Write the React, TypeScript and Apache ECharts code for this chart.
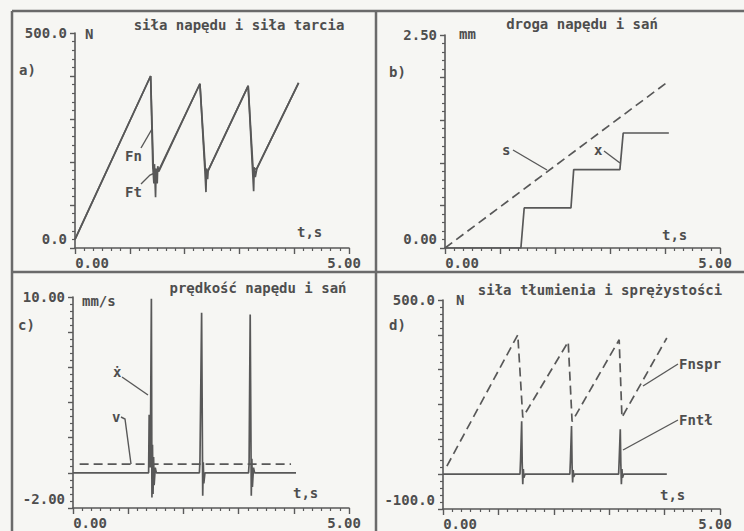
import React, { useEffect, useRef } from "react";
import * as echarts from "echarts";

// ---- tick labels ----
const timeLabels = ["0.00", "5.00"];
const yLabelsA = ["0.0", "500.0"];
const yLabelsB = ["0.00", "2.50"];
const yLabelsC = ["-2.00", "10.00"];
const yLabelsD = ["-100.0", "500.0"];

// ---- titles ----
const titles = [
  "siła napędu i siła tarcia",
  "droga napędu i sań",
  "prędkość napędu i sań",
  "siła tłumienia i sprężystości",
];
const panelLetters = ["a)", "b)", "c)", "d)"];
const units = ["N", "mm", "mm/s", "N"];

// ---- panel a: force of drive (Fn) and friction (Ft), [t s, N] ----
const fnData = [
  [0, 20], [1.38, 400], [1.43, 185], [1.52, 178], [2.28, 382], [2.38, 180],
  [2.43, 180], [3.16, 377], [3.25, 182], [3.32, 185], [4.08, 384],
];
const ftData = [
  [0, 20], [1.38, 400], [1.42, 190], [1.44, 150], [1.45, 195], [1.47, 118],
  [1.48, 185], [1.5, 150], [1.51, 190], [1.53, 178], [2.28, 382], [2.37, 182],
  [2.39, 130], [2.4, 185], [2.42, 160], [2.43, 180], [3.16, 377], [3.24, 182],
  [3.26, 132], [3.27, 188], [3.29, 165], [3.32, 185], [4.08, 384],
];

// ---- panel b: displacement of drive (s) and sledge (x), [t s, mm] ----
const sData = [[0, 0], [4.07, 1.96]];
const xData = [
  [0, 0], [1.38, 0], [1.44, 0.47], [2.29, 0.47], [2.34, 0.92],
  [3.18, 0.92], [3.24, 1.35], [4.07, 1.35],
];

// ---- panel c: velocity of drive (v) and sledge (x dot), [t s, mm/s] ----
const vData = [[0.12, 0.5], [3.95, 0.5]];
const xdotData = [
  [0, 0], [1.37, 0], [1.38, 3.3], [1.39, 3.3], [1.4, 0.3], [1.42, 9.9],
  [1.43, -1.4], [1.44, 1.6], [1.45, -1.2], [1.46, 0.9], [1.47, -0.7],
  [1.49, 0.3], [1.51, 0], [2.29, 0], [2.3, 0.7], [2.31, 0.7], [2.33, 9.1],
  [2.35, -1.3], [2.36, 0.6], [2.37, -0.6], [2.39, 0], [3.18, 0], [3.19, 0.5],
  [3.21, 9.0], [3.23, -1.3], [3.24, 0.8], [3.25, -0.8], [3.27, 0.3],
  [3.29, 0], [4.04, 0],
];

// ---- panel d: spring force (Fnspr) and damping force (Fntł), [t s, N] ----
const fnsprData = [
  [0.07, 23], [1.35, 400], [1.44, 163], [2.26, 380], [2.33, 151],
  [3.18, 386], [3.23, 163], [4.04, 391],
];
const fntlData = [
  [0, 0], [1.39, 0], [1.4, 40], [1.42, 152], [1.43, 30], [1.44, -29],
  [1.45, 15], [1.46, -10], [1.48, 0], [2.29, 0], [2.3, 40], [2.32, 138],
  [2.33, 25], [2.34, -24], [2.35, 12], [2.36, -8], [2.38, 0], [3.17, 0],
  [3.18, 40], [3.2, 129], [3.21, 30], [3.22, -29], [3.23, 15], [3.24, -10],
  [3.26, 0], [4.04, 0],
];

const INK = "#4e4e4e";
const LINE = "#585858";
const FRAME = "#6a6a6a";
const TICK = "#5a5a5a";
const FONT = "DejaVu Sans Mono";
const FS = 14;

const txt = (text: string, x: number, y: number, align = "left") => ({
  type: "text",
  x,
  y,
  style: {
    text,
    fill: INK,
    font: `bold ${FS}px "${FONT}"`,
    textAlign: align,
    textVerticalAlign: "middle",
  },
});

const seg = (pts: number[][]) => ({
  type: "polyline",
  shape: { points: pts },
  style: { stroke: LINE, lineWidth: 1.4, fill: "none" },
});

const frameLine = (x1: number, y1: number, x2: number, y2: number) => ({
  type: "line",
  shape: { x1, y1, x2, y2 },
  style: { stroke: FRAME, lineWidth: 2.5 },
});

const labelText = { fontFamily: FONT, fontWeight: "bold", fontSize: FS, color: INK };

function xAxisFor(gridIndex: number) {
  return {
    type: "value",
    gridIndex,
    min: 0,
    max: 5,
    interval: 1,
    axisLine: { show: true, onZero: false, lineStyle: { color: LINE, width: 1.6 } },
    axisTick: { show: true, length: 6, lineStyle: { color: TICK, width: 1.4 } },
    minorTick: { show: true, splitNumber: 6, length: 3, lineStyle: { color: TICK, width: 1.2 } },
    splitLine: { show: false },
    minorSplitLine: { show: false },
    axisLabel: {
      margin: 8,
      ...labelText,
      formatter: (v: number) =>
        v === 0 ? `{l|${timeLabels[0]}}` : v === 5 ? `{r|${timeLabels[1]}}` : "",
      rich: {
        l: { ...labelText, padding: [0, 0, 0, 34] },
        r: { ...labelText, padding: [0, 10, 0, 0] },
      },
    },
  };
}

function yAxisFor(gridIndex: number, min: number, max: number, interval: number, labels: string[]) {
  return {
    type: "value",
    gridIndex,
    min,
    max,
    interval,
    axisLine: { show: true, onZero: false, lineStyle: { color: LINE, width: 1.6 } },
    axisTick: { show: true, length: 5, lineStyle: { color: TICK, width: 1.4 } },
    minorTick: { show: true, splitNumber: 5, length: 3, lineStyle: { color: TICK, width: 1.2 } },
    splitLine: { show: false },
    minorSplitLine: { show: false },
    axisLabel: {
      margin: 8,
      ...labelText,
      formatter: (v: number) =>
        Math.abs(v - min) < 1e-9
          ? `{lo|${labels[0]}}`
          : Math.abs(v - max) < 1e-9
          ? `{hi|${labels[1]}}`
          : "",
      rich: {
        lo: { ...labelText, padding: [0, 0, 18, 0] },
        hi: { ...labelText },
      },
    },
  };
}

function lineSeries(data: number[][], idx: number, dashed: boolean, name: string) {
  return {
    name,
    type: "line",
    xAxisIndex: idx,
    yAxisIndex: idx,
    data,
    showSymbol: false,
    symbol: "none",
    silent: true,
    lineStyle: { color: LINE, width: 1.7, type: dashed ? [9, 5] : "solid" },
  };
}

export default function App() {
  const ref = useRef<HTMLDivElement>(null);
  useEffect(() => {
    if (!ref.current) return;
    const chart = echarts.init(ref.current, null, { renderer: "svg" });
    chart.setOption({
      animation: false,
      backgroundColor: "#f6f6f3",
      grid: [
        { left: 75, top: 33, width: 274, height: 215 },
        { left: 445, top: 35, width: 275, height: 213 },
        { left: 73, top: 297, width: 276, height: 211 },
        { left: 443, top: 300, width: 277, height: 210 },
      ],
      xAxis: [xAxisFor(0), xAxisFor(1), xAxisFor(2), xAxisFor(3)],
      yAxis: [
        yAxisFor(0, 0, 500, 100, yLabelsA),
        yAxisFor(1, 0, 2.5, 0.5, yLabelsB),
        yAxisFor(2, -2, 10, 2, yLabelsC),
        yAxisFor(3, -100, 500, 100, yLabelsD),
      ],
      series: [
        lineSeries(fnData, 0, false, "Fn"),
        lineSeries(ftData, 0, false, "Ft"),
        lineSeries(sData, 1, true, "s"),
        lineSeries(xData, 1, false, "x"),
        lineSeries(vData, 2, true, "v"),
        lineSeries(xdotData, 2, false, "ẋ"),
        lineSeries(fnsprData, 3, true, "Fnspr"),
        lineSeries(fntlData, 3, false, "Fntł"),
      ],
      graphic: [
        // frame
        frameLine(12, 11, 744, 11),
        frameLine(12, 11, 12, 531),
        frameLine(376, 11, 376, 531),
        frameLine(12, 272, 744, 272),
        // titles
        txt(titles[0], 239, 25, "center"),
        txt(titles[1], 582, 24, "center"),
        txt(titles[2], 258, 288, "center"),
        txt(titles[3], 600, 290, "center"),
        // panel letters
        txt(panelLetters[0], 19, 70),
        txt(panelLetters[1], 389, 72),
        txt(panelLetters[2], 18, 325),
        txt(panelLetters[3], 389, 325),
        // units
        txt(units[0], 85, 34),
        txt(units[1], 459, 34),
        txt(units[2], 82, 301),
        txt(units[3], 456, 300),
        // t,s
        txt("t,s", 297, 232),
        txt("t,s", 662, 235),
        txt("t,s", 293, 493),
        txt("t,s", 660, 495),
        // panel a annotations
        txt("Fn", 125, 156),
        seg([[141, 148], [152, 129]]),
        txt("Ft", 125, 192),
        seg([[141, 184], [150, 175], [157, 172]]),
        // panel b annotations
        txt("s", 502, 150),
        seg([[513, 150], [547, 170]]),
        txt("x", 594, 150),
        seg([[604, 151], [620, 163]]),
        // panel c annotations
        txt("ẋ", 113, 372),
        seg([[122, 377], [148, 395]]),
        txt("v", 112, 417),
        seg([[121, 417], [125, 419], [131, 464]]),
        // panel d annotations
        txt("Fnspr", 679, 364),
        seg([[678, 364], [643, 386]]),
        txt("Fntł", 679, 420),
        seg([[678, 420], [623, 450]]),
      ],
    });
    return () => chart.dispose();
  }, []);
  return (
    <div
      ref={ref}
      style={{ position: "fixed", left: 0, top: 0, width: 744, height: 531 }}
    />
  );
}
